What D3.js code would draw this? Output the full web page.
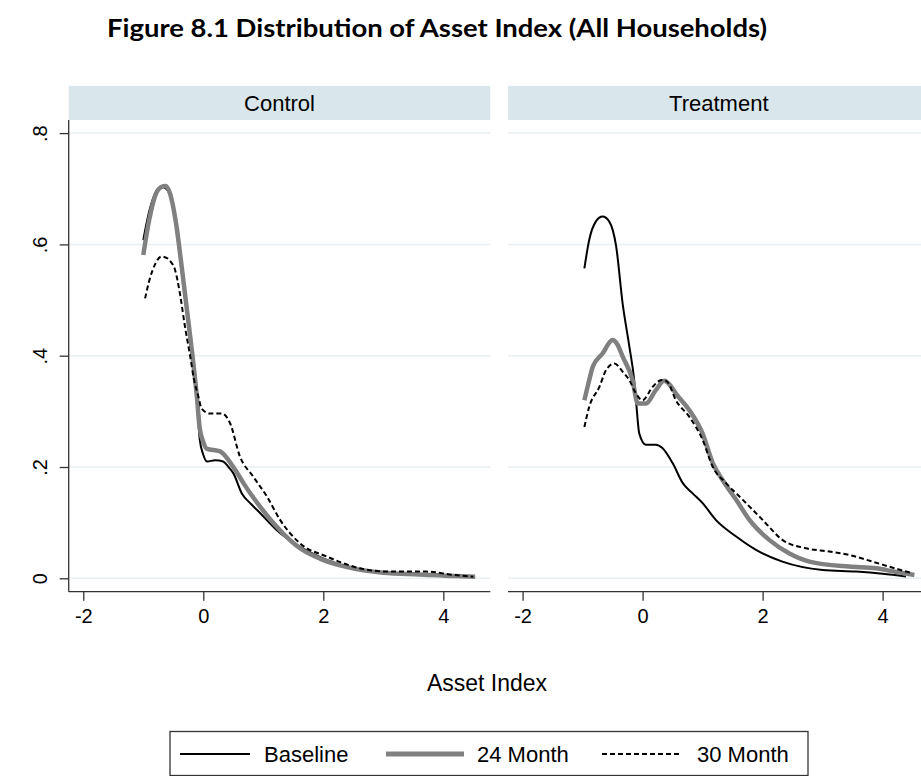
<!DOCTYPE html>
<html>
<head>
<meta charset="utf-8">
<script src="https://cdn.jsdelivr.net/npm/d3@7"></script>
<style>
  html, body { margin: 0; padding: 0; background: #fff; }
  svg { display: block; }
  text { font-family: "Liberation Sans", Arial, sans-serif; fill: #000; }
</style>
</head>
<body>
<svg id="chart" width="921" height="776"></svg>
<script>
// ---- data: kernel density of the asset index, by group and survey round ----
const panels = ["Control", "Treatment"];
const seriesNames = ["Baseline", "24 Month", "30 Month"];
const xTicks = [-2, 0, 2, 4];
const yTicks = [0, 0.2, 0.4, 0.6, 0.8];
const yTickLabels = ["0", ".2", ".4", ".6", ".8"];

const controlBaseline = [[-1.0,0.608],[-0.9,0.66],[-0.8,0.692],[-0.7,0.703],[-0.62,0.70],[-0.52,0.675],[-0.44,0.62],[-0.36,0.55],[-0.28,0.482],[-0.2,0.41],[-0.11,0.33],[-0.06,0.25],[0.0,0.222],[0.06,0.21],[0.2,0.212],[0.33,0.21],[0.42,0.2],[0.5,0.189],[0.64,0.153],[0.8,0.133],[0.95,0.117],[1.22,0.087],[1.61,0.057],[2.06,0.033],[2.61,0.015],[3.17,0.009],[3.7,0.006],[4.28,0.003],[4.53,0.002]];
const control24 = [[-1.0,0.581],[-0.9,0.645],[-0.8,0.688],[-0.7,0.703],[-0.63,0.705],[-0.55,0.69],[-0.45,0.635],[-0.36,0.56],[-0.27,0.48],[-0.18,0.4],[-0.11,0.33],[-0.06,0.27],[0.0,0.245],[0.055,0.233],[0.28,0.228],[0.5,0.2],[0.67,0.171],[0.8,0.15],[0.945,0.129],[1.22,0.093],[1.61,0.054],[1.95,0.035],[2.4,0.02],[3.0,0.01],[3.6,0.007],[4.2,0.004],[4.53,0.003]];
const control30 = [[-0.97,0.503],[-0.9,0.535],[-0.8,0.565],[-0.7,0.578],[-0.64,0.577],[-0.55,0.57],[-0.47,0.554],[-0.39,0.512],[-0.305,0.452],[-0.22,0.4],[-0.16,0.36],[-0.08,0.326],[-0.03,0.305],[0.11,0.296],[0.31,0.296],[0.445,0.279],[0.61,0.219],[0.83,0.183],[1.06,0.147],[1.28,0.105],[1.61,0.063],[2.06,0.039],[2.61,0.018],[3.1,0.012],[3.72,0.012],[4.17,0.006],[4.5,0.003]];

const treatBaseline = [[-0.97,0.557],[-0.89,0.608],[-0.78,0.641],[-0.667,0.65],[-0.555,0.641],[-0.44,0.596],[-0.333,0.494],[-0.22,0.416],[-0.14,0.356],[-0.11,0.32],[-0.055,0.26],[0.055,0.24],[0.22,0.24],[0.33,0.234],[0.5,0.207],[0.67,0.171],[0.83,0.153],[1.0,0.135],[1.22,0.105],[1.56,0.075],[1.89,0.051],[2.33,0.03],[3.0,0.015],[3.56,0.012],[4.0,0.008],[4.39,0.003]];
const treat24 = [[-0.97,0.32],[-0.89,0.356],[-0.83,0.38],[-0.667,0.404],[-0.5,0.428],[-0.42,0.42],[-0.33,0.398],[-0.167,0.356],[-0.08,0.314],[0.055,0.314],[0.22,0.338],[0.36,0.355],[0.45,0.348],[0.555,0.332],[0.78,0.302],[1.0,0.26],[1.17,0.207],[1.33,0.177],[1.56,0.141],[1.78,0.105],[2.11,0.069],[2.44,0.045],[2.78,0.03],[3.44,0.021],[3.89,0.018],[4.2,0.012],[4.53,0.006]];
const treat30 = [[-0.97,0.272],[-0.89,0.308],[-0.72,0.344],[-0.61,0.374],[-0.47,0.386],[-0.33,0.371],[-0.22,0.356],[-0.11,0.332],[0.0,0.32],[0.167,0.344],[0.33,0.357],[0.42,0.352],[0.555,0.32],[0.78,0.29],[1.0,0.249],[1.17,0.2],[1.39,0.171],[1.67,0.141],[2.0,0.105],[2.33,0.069],[2.72,0.054],[3.11,0.048],[3.44,0.042],[3.83,0.03],[4.2,0.018],[4.5,0.009]];

const panelSeries = {
  "Control": [controlBaseline, control24, control30],
  "Treatment": [treatBaseline, treat24, treat30]
};

// ---- styling per series ----
const seriesStyle = [
  { stroke: "#000", width: 2, dash: null },
  { stroke: "#808080", width: 4.5, dash: null },
  { stroke: "#000", width: 2, dash: "5,3" }
];

const svg = d3.select("#chart");

// title
svg.append("text")
  .attr("x", 437).attr("y", 37)
  .attr("text-anchor", "middle")
  .attr("textLength", 660)
  .attr("lengthAdjust", "spacingAndGlyphs")
  .style("font-family", "Lato, 'Open Sans', sans-serif")
  .style("font-weight", "bold")
  .style("font-size", "25px")
  .text("Figure 8.1 Distribution of Asset Index (All Households)");

// panel geometry
const panelLeft = [68.7, 508];
const panelWidth = 421.6;
const stripTop = 86, stripBottom = 120;
const axisY = 591.7;

const y = d3.scaleLinear().domain([0, 0.8]).range([578.3, 133.1]);

const line = (xs) => d3.line()
  .x(d => xs(d[0]))
  .y(d => y(d[1]))
  .curve(d3.curveMonotoneX);

panels.forEach((name, i) => {
  const x0 = panelLeft[i];
  const x = d3.scaleLinear().domain([-2.243, 4.783]).range([x0, x0 + panelWidth]);
  const g = svg.append("g");

  // strip
  g.append("rect")
    .attr("x", x0).attr("y", stripTop)
    .attr("width", panelWidth).attr("height", stripBottom - stripTop)
    .attr("fill", "#d9e6ec");
  g.append("text")
    .attr("x", x0 + panelWidth / 2).attr("y", 111)
    .attr("text-anchor", "middle")
    .style("font-size", "22px")
    .text(name);

  // gridlines
  g.selectAll(".grid").data(yTicks).join("line")
    .attr("x1", x0).attr("x2", x0 + panelWidth)
    .attr("y1", d => y(d)).attr("y2", d => y(d))
    .attr("stroke", "#e7eff2").attr("stroke-width", 1.5);

  // x axis
  const xAxis = d3.axisBottom(x).tickValues(xTicks).tickSize(9).tickPadding(8)
    .tickFormat(d3.format("d"));
  const ax = g.append("g").attr("transform", `translate(0,${axisY})`).call(xAxis);
  ax.select(".domain").attr("stroke", "#333").attr("stroke-width", 1.3)
    .attr("d", `M${x0},0H${x0 + panelWidth}`);
  ax.selectAll(".tick line").attr("stroke", "#333").attr("stroke-width", 1.3);
  ax.selectAll(".tick text")
    .style("font-family", "'Liberation Sans', Arial, sans-serif")
    .style("font-size", "20px").attr("fill", "#000")
    .text(d => d < 0 ? "-" + Math.abs(d) : d);

  // y axis (left panel only)
  if (i === 0) {
    const yAxis = d3.axisLeft(y).tickValues(yTicks).tickSize(9)
      .tickFormat((d, k) => yTickLabels[k]);
    const ay = g.append("g").attr("transform", `translate(${x0},0)`).call(yAxis);
    ay.select(".domain").attr("stroke", "#333").attr("stroke-width", 1.3)
      .attr("d", `M0,${stripBottom}V${axisY}`);
    ay.selectAll(".tick line").attr("stroke", "#333").attr("stroke-width", 1.3);
    ay.selectAll(".tick text")
      .style("font-family", "'Liberation Sans', Arial, sans-serif")
      .style("font-size", "20px").attr("fill", "#000")
      .attr("text-anchor", "middle")
      .attr("x", null).attr("dy", null)
      .attr("transform", "translate(-22,0) rotate(-90)");
  }

  // density curves
  panelSeries[name].forEach((pts, k) => {
    const s = seriesStyle[k];
    g.append("path")
      .attr("d", line(x)(pts))
      .attr("fill", "none")
      .attr("stroke", s.stroke)
      .attr("stroke-width", s.width)
      .attr("stroke-dasharray", s.dash)
      .attr("stroke-linejoin", "round");
  });
});

// x axis title
svg.append("text")
  .attr("x", 487).attr("y", 691)
  .attr("text-anchor", "middle")
  .style("font-size", "23px")
  .text("Asset Index");

// legend
const legendBox = { x: 170, y: 731.5, w: 638, h: 44 };
svg.append("rect")
  .attr("x", legendBox.x).attr("y", legendBox.y)
  .attr("width", legendBox.w).attr("height", legendBox.h)
  .attr("fill", "#fff").attr("stroke", "#333").attr("stroke-width", 1.3);

const keyStart = [180, 386, 602];
const keyEnd = [250, 464, 680];
const labelX = [264, 477, 697];
seriesNames.forEach((nm, k) => {
  const s = seriesStyle[k];
  svg.append("line")
    .attr("x1", keyStart[k]).attr("x2", keyEnd[k])
    .attr("y1", 754).attr("y2", 754)
    .attr("stroke", s.stroke).attr("stroke-width", s.width === 2 ? 2 : 5)
    .attr("stroke-dasharray", s.dash);
  svg.append("text")
    .attr("x", labelX[k]).attr("y", 762)
    .style("font-size", "22px")
    .text(nm);
});
</script>
</body>
</html>
